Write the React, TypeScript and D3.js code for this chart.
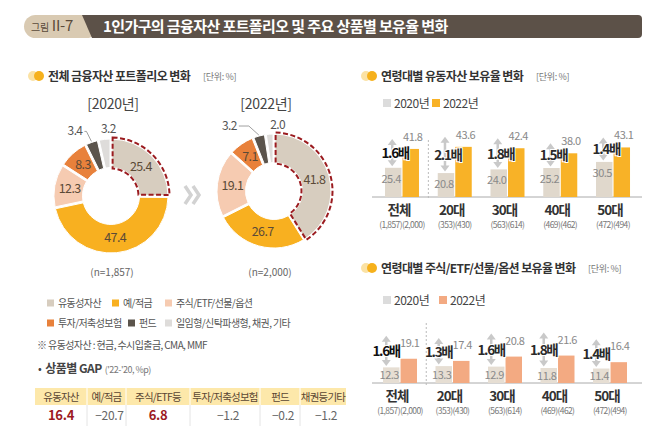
import React from 'react';
import * as d3 from 'd3';

const FONT = "'Noto Sans CJK KR', 'Noto Sans', sans-serif";

// ---------- data ----------
const assetCategories = ['유동성자산', '예/적금', '주식/ETF/선물/옵션', '투자/저축성보험', '펀드', '일임형/신탁파생형, 채권, 기타'];
const portfolio2020 = [25.4, 47.4, 12.3, 8.3, 3.4, 3.2];
const portfolio2022 = [41.8, 26.7, 19.1, 7.1, 3.2, 2.0];
const portfolioYears = ['[2020년]', '[2022년]'];
const portfolioN = ['(n=1,857)', '(n=2,000)'];

const ageGroups = ['전체', '20대', '30대', '40대', '50대'];
const ageSamples = ['(1,857)(2,000)', '(353)(430)', '(563)(614)', '(469)(462)', '(472)(494)'];
const liquid2020 = [25.4, 20.8, 24.0, 25.2, 30.5];
const liquid2022 = [41.8, 43.6, 42.4, 38.0, 43.1];
const liquidRatio = ['1.6배', '2.1배', '1.8배', '1.5배', '1.4배'];
const stock2020 = [12.3, 13.3, 12.9, 11.8, 11.4];
const stock2022 = [19.1, 17.4, 20.8, 21.6, 16.4];
const stockRatio = ['1.6배', '1.3배', '1.6배', '1.8배', '1.4배'];
const seriesYears = ['2020년', '2022년'];

const gapHeaders = ['유동자산', '예/적금', '주식/ETF등', '투자/저축성보험', '펀드', '채권등기타'];
const gapValues = [16.4, -20.7, 6.8, -1.2, -0.2, -1.2];

// ---------- styles ----------
const assetColors = ['#d7cdbf', '#f8b020', '#f6cbb1', '#e8813b', '#5b544c', '#dedcda'];
const liquidColors = ['#e0d8cc', '#f8b227'];
const stockColors = ['#e6ded3', '#f3aa82'];
const gapColWidths = [52, 39, 64, 70, 40, 46];

function SectionTitle({ x, y, title, unit, unitGap }: any) {
  return (
    <g>
      <circle cx={x} cy={y} r={5} fill="#fbe2a4" />
      <circle cx={x + 6} cy={y} r={5} fill="#f6b11c" />
      <text x={x + 15} y={y + 4.5} fontSize={12} fontWeight={700} fill="#333" letterSpacing={-0.6}>{title}</text>
      <text x={x + 15 + unitGap} y={y + 3.5} fontSize={9} fill="#777" letterSpacing={-0.3}>{unit}</text>
    </g>
  );
}

function Donut({ cx, cy, values, callouts }: any) {
  const outerR = 57;
  const innerR = 28.5;
  const pie = d3.pie<number>().sort(null).value((d) => d).padAngle(0.03);
  const arcs = pie(values);
  const arc = d3.arc<any>().innerRadius(innerR).outerRadius(outerR);
  const outline = d3.arc<any>().innerRadius(innerR - 1).outerRadius(outerR + 1.5);
  const labelArc = d3.arc<any>().innerRadius(42).outerRadius(42);
  const edgeArc = d3.arc<any>().innerRadius(outerR + 1).outerRadius(outerR + 1);
  return (
    <g transform={`translate(${cx},${cy})`}>
      {arcs.map((a, i) => (
        <path key={i} d={arc(a) as string} fill={assetColors[i]} stroke="#fff" strokeWidth={1} />
      ))}
      <path d={outline({ ...arcs[0], padAngle: 0.05 }) as string} fill="none" stroke="#9b1b1f" strokeWidth={2} strokeDasharray="5 2.5" />
      {arcs.map((a, i) => {
        if (i >= 4) return null;
        const [lx, ly] = labelArc.centroid(a);
        return (
          <text key={'l' + i} x={lx} y={ly + 4.5} fontSize={12.5} fill="#5b4a37" textAnchor="middle" letterSpacing={-0.6}>
            {values[i].toFixed(1)}
          </text>
        );
      })}
      {callouts.map((c: any, k: number) => {
        const a = arcs[c.index];
        const [ex, ey] = edgeArc.centroid(a);
        const tx = ex + c.dx;
        const ty = ey + c.dy;
        return (
          <g key={'c' + k}>
            {c.leader && (
              <polyline points={`${tx + 2},${ty - 4} ${tx + c.elbow},${ty - 4} ${ex},${ey}`} fill="none" stroke="#888" strokeWidth={0.8} />
            )}
            <text x={tx} y={ty} fontSize={12} fill="#555" textAnchor={c.anchor} letterSpacing={-0.6}>
              {values[c.index].toFixed(1)}
            </text>
          </g>
        );
      })}
    </g>
  );
}

function GroupedBars({ rangeX, baseY, yMax, topY, v20, v22, ratio, colors, label22Dy, label22Dx, arrowTop, arrowDx, ratioDx, legendY, legendGap, sepTop }: any) {
  const x = d3.scaleBand<string>().domain(ageGroups).range(rangeX);
  const inner = d3.scaleBand<string>().domain(seriesYears).range([-17, 17]).paddingInner(0.06);
  const y = d3.scaleLinear().domain([0, yMax]).range([baseY, topY]);
  const bw = inner.bandwidth();
  const sepX = x(ageGroups[1]) as number;
  return (
    <g>
      {/* legend */}
      {seriesYears.map((s, i) => (
        <g key={s} transform={`translate(${383 + i * legendGap},${legendY})`}>
          <rect x={0} y={-4} width={8} height={8} fill={i === 0 ? '#dcdcdc' : colors[1]} />
          <text x={11} y={4.5} fontSize={12} fill="#444" letterSpacing={-0.5}>{s}</text>
        </g>
      ))}
      <line x1={372} x2={642} y1={baseY} y2={baseY} stroke="#aaa" strokeWidth={1} />
      <line x1={sepX} x2={sepX} y1={sepTop} y2={baseY + 3} stroke="#bbb" strokeWidth={1} strokeDasharray="2 2" />
      {ageGroups.map((g, i) => {
        const cx = (x(g) as number) + x.bandwidth() / 2;
        const x20 = cx + (inner(seriesYears[0]) as number);
        const x22 = cx + (inner(seriesYears[1]) as number);
        const t20 = y(v20[i]);
        const t22 = y(v22[i]);
        const aTop = t22 - arrowTop;
        const aBot = t20 - 1.5;
        const ax = x20 + bw / 2 + arrowDx;
        const lab20Y = Math.min(t20 + 11, (t20 + baseY) / 2) + 4;
        return (
          <g key={g}>
            <rect x={x20} y={t20} width={bw} height={baseY - t20} fill={colors[0]} />
            <rect x={x22} y={t22} width={bw} height={baseY - t22} fill={colors[1]} />
            <text x={x22 + bw / 2 + label22Dx} y={t22 - label22Dy + 4} fontSize={11} fill="#888" textAnchor="middle" letterSpacing={-0.5}>
              {v22[i].toFixed(1)}
            </text>
            <text x={x20 + bw / 2 - 2} y={lab20Y} fontSize={11} fill="#8a8a8a" textAnchor="middle" letterSpacing={-0.5}>
              {v20[i].toFixed(1)}
            </text>
            {/* double arrow */}
            <line x1={ax} x2={ax} y1={aTop + 5} y2={aBot - 5} stroke="#c9c9c9" strokeWidth={2.5} />
            <path d={`M${ax - 4.5},${aTop + 6} L${ax},${aTop} L${ax + 4.5},${aTop + 6} Z`} fill="#c9c9c9" />
            <path d={`M${ax - 4.5},${aBot - 6} L${ax},${aBot} L${ax + 4.5},${aBot - 6} Z`} fill="#c9c9c9" />
            <text x={x20 + bw / 2 + ratioDx} y={(aTop + aBot) / 2 + 5.5} fontSize={13.5} fontWeight={700} fill={i === 0 ? '#111' : '#2a2a2a'}
              textAnchor="middle" letterSpacing={-1.3} stroke="#fff" strokeWidth={2} paintOrder="stroke">
              {ratio[i]}
            </text>
            <text x={cx - 3} y={baseY + 18} fontSize={13.5} fontWeight={700} fill="#333" textAnchor="middle" letterSpacing={-1}>{g}</text>
            <text x={cx} y={baseY + 30.5} fontSize={8.5} fill="#777" textAnchor="middle" letterSpacing={-0.6}>{ageSamples[i]}</text>
          </g>
        );
      })}
    </g>
  );
}

export default function App() {
  const colEdges = [35, ...d3.cumsum(gapColWidths).map((w) => 35 + w)];
  const fmt = d3.format('.1f');
  const legendRows = [
    [{ i: 0, x: 47 }, { i: 1, x: 112 }, { i: 2, x: 165 }],
    [{ i: 3, x: 47 }, { i: 4, x: 128 }, { i: 5, x: 165 }],
  ];
  return (
    <svg width={656} height={426} viewBox="0 0 656 426" style={{ position: 'absolute', left: 0, top: 0, background: '#fff' }} fontFamily={FONT}>
      <rect width={656} height={426} fill="#fff" />
      {/* header */}
      <rect x={24} y={15} width={74} height={23} rx={11.5} fill="#d9cab2" />
      <path d="M82,15 H638 Q642,15 642,19 V34 Q642,38 638,38 H92 Z" fill="#5c5148" />
      <text x={31} y={31} fill="#5a4a3a" letterSpacing={-0.3}>
        <tspan fontSize={10}>그림</tspan>
        <tspan fontSize={15} dx={3}>II-7</tspan>
      </text>
      <text x={103} y={31.5} fontSize={15} fontWeight={700} fill="#fff" letterSpacing={-0.6}>1인가구의 금융자산 포트폴리오 및 주요 상품별 보유율 변화</text>

      {/* left section */}
      <SectionTitle x={33} y={76} title="전체 금융자산 포트폴리오 변화" unit="[단위: %]" unitGap={155} />
      <text x={113} y={109} fontSize={14} fill="#444" textAnchor="middle" letterSpacing={-0.3}>{portfolioYears[0]}</text>
      <text x={266} y={109} fontSize={14} fill="#444" textAnchor="middle" letterSpacing={-0.3}>{portfolioYears[1]}</text>
      <Donut cx={111} cy={196} values={portfolio2020}
        callouts={[{ index: 4, dx: -9, dy: -6, anchor: 'end', leader: true, elbow: 4 }, { index: 5, dx: 4, dy: -5, anchor: 'middle', leader: false }]} />
      <Donut cx={274} cy={191} values={portfolio2022}
        callouts={[{ index: 4, dx: -22, dy: -5, anchor: 'end', leader: true, elbow: 12 }, { index: 5, dx: 8, dy: -4, anchor: 'middle', leader: false }]} />
      <polyline points="185,186 191,195 185,204" fill="none" stroke="#d2d2d2" strokeWidth={3.5} />
      <polyline points="193,186 199,195 193,204" fill="none" stroke="#d2d2d2" strokeWidth={3.5} />
      <text x={112} y={276} fontSize={10} fill="#666" textAnchor="middle">{portfolioN[0]}</text>
      <text x={270} y={276} fontSize={10} fill="#666" textAnchor="middle">{portfolioN[1]}</text>

      {/* legend */}
      {legendRows.map((row, r) =>
        row.map((it) => (
          <g key={it.i} transform={`translate(${it.x},${303 + r * 20})`}>
            <rect x={0} y={-3.5} width={7} height={7} fill={assetColors[it.i]} />
            <text x={11} y={4} fontSize={10} fill="#555" letterSpacing={-0.6}>{assetCategories[it.i]}</text>
          </g>
        ))
      )}
      <text x={37} y={349} fontSize={10} fill="#555" letterSpacing={-0.6}>※ 유동성자산 : 현금, 수시입출금, CMA, MMF</text>
      <text x={38} y={373} fill="#444" letterSpacing={-0.5}>
        <tspan fontSize={11}>•</tspan>
        <tspan fontSize={12} fontWeight={700} dx={4}>상품별 GAP</tspan>
        <tspan fontSize={9} fill="#777" dx={3}>('22-'20, %p)</tspan>
      </text>

      {/* GAP table */}
      <rect x={colEdges[0]} y={388} width={colEdges[6] - colEdges[0]} height={17} fill="#fde8aa" />
      {gapHeaders.map((h, i) => {
        const cx = (colEdges[i] + colEdges[i + 1]) / 2;
        const v = gapValues[i];
        return (
          <g key={h}>
            {i > 0 && <line x1={colEdges[i]} x2={colEdges[i]} y1={388} y2={405} stroke="#fff" strokeWidth={1} />}
            {i > 0 && <line x1={colEdges[i]} x2={colEdges[i]} y1={405} y2={426} stroke="#e4e4e4" strokeWidth={1} />}
            <text x={cx} y={400.5} fontSize={10.5} fill="#5a4633" textAnchor="middle" letterSpacing={-0.8}>{h}</text>
            <text x={cx + (v > 0 ? 0 : 3)} y={420} fontSize={v > 0 ? 13 : 12} fontWeight={v > 0 ? 700 : 400}
              fill={v > 0 ? '#9c1a1f' : '#666'} textAnchor="middle" letterSpacing={-0.3}>{fmt(v)}</text>
          </g>
        );
      })}

      {/* right top */}
      <SectionTitle x={366} y={76} title="연령대별 유동자산 보유율 변화" unit="[단위: %]" unitGap={155} />
      <GroupedBars rangeX={[375.6, 639.4]} baseY={197} yMax={50} topY={139.5} v20={liquid2020} v22={liquid2022}
        ratio={liquidRatio} colors={liquidColors} label22Dy={12} label22Dx={2} arrowTop={10} arrowDx={-1} ratioDx={2}
        legendY={103} legendGap={49} sepTop={140} />

      {/* right bottom */}
      <SectionTitle x={366} y={268} title="연령대별 주식/ETF/선물/옵션 보유율 변화" unit="[단위: %]" unitGap={207} />
      <GroupedBars rangeX={[373.75, 636.25]} baseY={383} yMax={25} topY={351.25} v20={stock2020} v22={stock2022}
        ratio={stockRatio} colors={stockColors} label22Dy={16} label22Dx={1} arrowTop={23} arrowDx={-5} ratioDx={-5}
        legendY={300} legendGap={56} sepTop={323} />
    </svg>
  );
}
